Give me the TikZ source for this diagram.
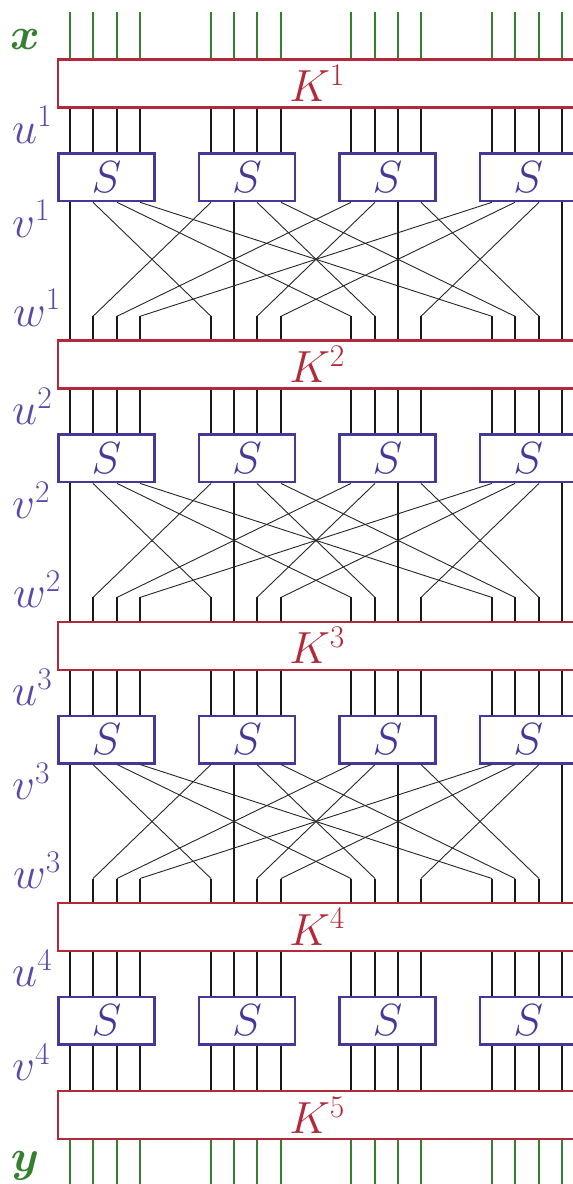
\documentclass[tikz,border=0pt]{standalone}
\usepackage{fix-cm}
\usepackage{amsmath}
\usepackage{bm}
\usepackage{xcolor}
\usepackage{tikz}
\usetikzlibrary{positioning,calc}

\definecolor{keyred}{RGB}{178,42,58}
\definecolor{sboxblue}{RGB}{70,56,152}
\definecolor{lblblue}{RGB}{88,74,170}
\definecolor{bitgreen}{RGB}{52,128,48}

\tikzset{
  keybox/.style={draw=keyred, line width=2.2pt, fill=white, minimum width=518pt,
    minimum height=48pt, inner sep=0pt, anchor=north west, text=keyred},
  sbox/.style={draw=sboxblue, line width=2.5pt, fill=white, minimum width=96.3pt,
    minimum height=47.5pt, inner sep=0pt, anchor=north west, text=sboxblue},
  wire/.style={line width=1.9pt, black!90},
  perm/.style={line width=0.9pt, black!85},
  iowire/.style={line width=1.6pt, bitgreen},
  varlbl/.style={text=lblblue, anchor=base west, inner sep=0pt},
}

\begin{document}
\begin{tikzpicture}[x=1pt, y=-1pt, font=\fontsize{45}{54}\selectfont]
\useasboundingbox (0,0) rectangle (573,1184);
\clip (0,0) rectangle (573,1184);

% bit positions (16 bits, 4 groups)
\foreach \g in {0,...,3}{
  \foreach \j in {0,...,3}{
    \pgfmathtruncatemacro\b{4*\g+\j}
    \pgfmathsetmacro\bx{round(70+23.43*(6*\g+\j))}
    \coordinate (b\b) at (\bx,0);
  }
}
\coordinate (xtop) at (0,12);
\coordinate (ybot) at (0,1184);

% Round keys
\foreach \r in {1,...,5}{
  \pgfmathsetmacro\T{\r<5 ? 58.3+281.1*(\r-1) : 1090}
  \node[keybox] (K\r) at (57,\T) {$K^{\r}$};
}

% S-boxes and labels of each round
\foreach \r in {1,...,4}{
  \pgfmathsetmacro\T{58.3+281.1*(\r-1)}
  \foreach \g in {0,...,3}{
    \pgfmathsetmacro\sx{70+23.43*6*\g-13}
    \node[sbox] (S\r-\g) at (\sx,\T+94) {$S$};
  }
  \node[varlbl] (u\r) at (12,\T+85) {$u^{\r}$};
  \node[varlbl] (v\r) at (12,\T+179) {$v^{\r}$};
  \coordinate (w\r) at (0,\T+258);
}
\foreach \r in {1,...,3}{
  \pgfmathsetmacro\T{58.3+281.1*(\r-1)}
  \node[varlbl] (wl\r) at (13,\T+268) {$w^{\r}$};
}

% Plaintext and ciphertext bits
\node[text=bitgreen] (xlbl) at (25,39) {$\bm{x}$};
\node[text=bitgreen] (ylbl) at (25,1166) {$\bm{y}$};
\foreach \b in {0,...,15}{
  \draw[iowire] (b\b |- xtop) -- (b\b |- K1.north);
  \draw[iowire] (b\b |- K5.south) -- (b\b |- ybot);
}

% key mixing -> S-box inputs
\foreach \r in {1,...,4}{
  \foreach \b in {0,...,15}{
    \pgfmathtruncatemacro\g{int(\b/4)}
    \draw[wire] (b\b |- K\r.south) -- (b\b |- S\r-\g.north);
  }
}

% permutation (bit 4g+j goes to 4j+g)
\foreach \r in {1,...,4}{
  \pgfmathtruncatemacro\rn{\r+1}
  \foreach \b in {0,...,15}{
    \pgfmathtruncatemacro\g{int(\b/4)}
    \pgfmathtruncatemacro\d{\r<4 ? 4*mod(\b,4)+\g : \b}
    \ifnum\d=\b
      \draw[wire] (b\b |- S\r-\g.south) -- (b\b |- K\rn.north);
    \else
      \draw[perm] (b\b |- S\r-\g.south) -- (b\d |- w\r);
      \draw[wire] (b\d |- w\r) -- (b\d |- K\rn.north);
    \fi
  }
}

\end{tikzpicture}
\end{document}
